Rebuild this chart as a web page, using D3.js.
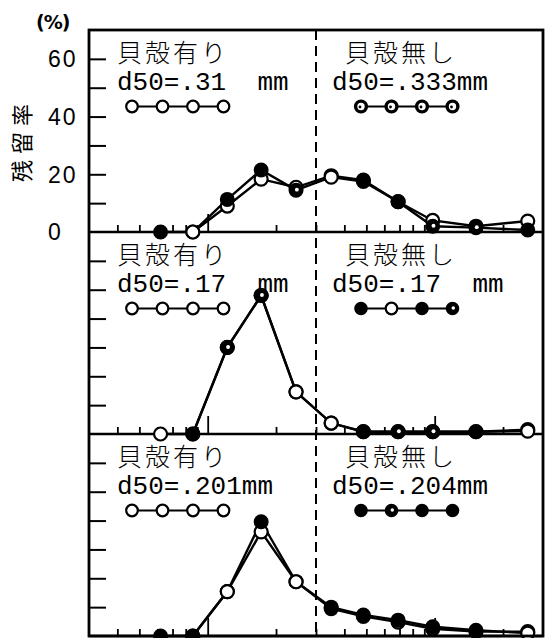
<!DOCTYPE html>
<html>
<head>
<meta charset="utf-8">
<script src="https://cdn.jsdelivr.net/npm/d3@7"></script>
<style>
  body { margin: 0; background: #fff; }
  text { fill: #000; }
</style>
</head>
<body>
<svg id="chart" width="551" height="638"></svg>
<script>
// Sieve opening sizes (mm) at which retention was measured
const sieveSizes = [0.062, 0.086, 0.122, 0.172, 0.245, 0.35, 0.485, 0.69, 0.98, 1.52, 2.57];

// Retention rate (%) per sieve — with shell (open) / without shell (filled), three samples
const withShell1    = [null, 0, 9, 18.3, 15.5, 19.5, 18, 10.5, 4, 2, 3.8];
const withoutShell1 = [0, 0, 11.3, 21.5, 14.5, 19, 17.5, 10.5, 2, 1.5, 0.7];
const withShell2    = [0, 0, 30, 48, 14.6, 3.8, 0.8, 0.8, 0.8, 0.8, 1.5];
const withoutShell2 = [null, 0, 30, 48, 14.6, 3.8, 0.8, 0.8, 0.8, 0.8, 1.0];
const withShell3    = [null, 0, 15.4, 36.1, 18.8, 9.5, 6.8, 4.8, 2.5, 1.5, 1.5];
const withoutShell3 = [0, 0, 15.4, 39.6, 18.8, 10, 7.3, 5.5, 3.2, 2, 1];

// Median grain size labels
const d50With    = [".31  mm", ".17  mm", ".201mm"];
const d50Without = [".333mm", ".17  mm", ".204mm"];
const labelWith = "貝殻有り";
const labelWithout = "貝殻無し";

// Axis ticks
const yTicks = [10, 20, 30, 40, 50, 60];
const yTickLabels = [0, 20, 40, 60];
const xMinorTicks = [0.04, 0.05, 0.06, 0.07, 0.08, 0.09, 0.2, 0.3, 0.4, 0.5, 0.6, 0.7, 0.8, 0.9, 2];
const xMajorTicks = [0.1, 1];
const boundarySize = 0.3;

// Marker looks of the shell-free series: f filled, o open, p filled with light speck, r ring
const markWithout = ["foffpoffppf", "ffppoofppfo", "ffofofffffo"];
const legendMarkWithout = ["rrrr", "fofp", "fpff"];

const series = [
  { withS: withShell1, withoutS: withoutShell1 },
  { withS: withShell2, withoutS: withoutShell2 },
  { withS: withShell3, withoutS: withoutShell3 }
];

// ---- layout ----
const plotLeft = 89, plotRight = 543, plotTop = 30, panelH = 202;
const svg = d3.select("#chart");

const x = d3.scaleLog().domain([0.03, 3]).range([plotLeft, plotRight]);

function drawMarker(g, cx, cy, kind, r) {
  if (kind === "f") {
    g.append("circle").attr("cx", cx).attr("cy", cy).attr("r", r)
      .attr("fill", "#000").attr("stroke", "#000").attr("stroke-width", 2);
  } else if (kind === "p") {
    g.append("circle").attr("cx", cx).attr("cy", cy).attr("r", r)
      .attr("fill", "#000").attr("stroke", "#000").attr("stroke-width", 2);
    g.append("circle").attr("cx", cx + 0.8).attr("cy", cy - 0.5).attr("r", r * 0.3)
      .attr("fill", "#fff");
  } else if (kind === "r") {
    g.append("circle").attr("cx", cx).attr("cy", cy).attr("r", r - 0.4)
      .attr("fill", "#fff").attr("stroke", "#000").attr("stroke-width", 3.4);
    g.append("circle").attr("cx", cx - 1).attr("cy", cy + 0.5).attr("r", 1.4)
      .attr("fill", "#000");
  } else {
    g.append("circle").attr("cx", cx).attr("cy", cy).attr("r", r)
      .attr("fill", "#fff").attr("stroke", "#000").attr("stroke-width", 2.2);
  }
}

const fJP = "'Noto Sans CJK JP'";
const fMono = "'Liberation Mono'";

series.forEach((s, i) => {
  const pTop = plotTop + i * panelH;
  const pBot = pTop + panelH;
  const y = d3.scaleLinear().domain([0, 70]).range([pBot, pTop]);
  const g = svg.append("g");

  // left ticks (inward)
  const ya = g.append("g").attr("transform", `translate(${plotLeft},0)`)
    .call(d3.axisRight(y).tickValues(yTicks).tickSize(17).tickFormat(""));
  ya.select(".domain").remove();
  ya.selectAll(".tick line").attr("stroke", "#000").attr("stroke-width", 2);

  // bottom ticks (inward)
  const xaMinor = g.append("g").attr("transform", `translate(0,${pBot})`)
    .call(d3.axisTop(x).tickValues(xMinorTicks).tickSize(7).tickFormat(""));
  xaMinor.select(".domain").remove();
  xaMinor.selectAll(".tick line").attr("stroke", "#000").attr("stroke-width", 1.8);
  const xaMajor = g.append("g").attr("transform", `translate(0,${pBot})`)
    .call(d3.axisTop(x).tickValues(xMajorTicks).tickSize(18).tickFormat(""));
  xaMajor.select(".domain").remove();
  xaMajor.selectAll(".tick line").attr("stroke", "#000").attr("stroke-width", 1.8);

  // baseline of the panel
  g.append("line").attr("x1", plotLeft).attr("x2", plotRight).attr("y1", pBot).attr("y2", pBot)
    .attr("stroke", "#000").attr("stroke-width", 2.6);

  // tick labels on the first panel
  if (i === 0) {
    yTickLabels.forEach(v => {
      svg.append("text").attr("x", 48).attr("y", y(v)).attr("dy", "0.36em")
        .attr("font-family", "'Liberation Sans'").attr("font-size", 23)
        .attr("letter-spacing", 2).text(v);
    });
  }

  // legend texts
  g.append("text").attr("x", 117).attr("y", pTop + 32)
    .attr("font-family", fJP).attr("font-weight", 300).attr("font-size", 25)
    .attr("letter-spacing", 3).text(labelWith);
  g.append("text").attr("x", 117).attr("y", pTop + 60)
    .attr("font-family", fMono).attr("font-size", 26)
    .style("white-space", "pre").text("d50=" + d50With[i]);
  g.append("text").attr("x", 345).attr("y", pTop + 32)
    .attr("font-family", fJP).attr("font-weight", 300).attr("font-size", 25)
    .attr("letter-spacing", 3).text(labelWithout);
  g.append("text").attr("x", 332).attr("y", pTop + 60)
    .attr("font-family", fMono).attr("font-size", 26)
    .style("white-space", "pre").text("d50=" + d50Without[i]);

  // legend markers
  const legY = pTop + 76.5;
  const legStep = 30.5;
  [[132, "oooo"], [361, legendMarkWithout[i]]].forEach(([lx, kinds]) => {
    g.append("line").attr("x1", lx).attr("x2", lx + 3 * legStep)
      .attr("y1", legY).attr("y2", legY).attr("stroke", "#000").attr("stroke-width", 2);
    kinds.split("").forEach((k, j) => drawMarker(g, lx + j * legStep, legY, k, 5.8));
  });

  // data lines
  const line = d3.line()
    .defined(d => d.v !== null)
    .x(d => x(d.size)).y(d => y(d.v));
  const ptsWith = sieveSizes.map((size, j) => ({ size, v: s.withS[j] }));
  const ptsWithout = sieveSizes.map((size, j) => ({ size, v: s.withoutS[j] }));
  g.append("path").datum(ptsWith).attr("d", line)
    .attr("fill", "none").attr("stroke", "#000").attr("stroke-width", 2.4);
  g.append("path").datum(ptsWithout).attr("d", line)
    .attr("fill", "none").attr("stroke", "#000").attr("stroke-width", 2.4);

  // data markers: with-shell first, shell-free on top
  ptsWith.forEach(d => { if (d.v !== null) drawMarker(g, x(d.size), y(d.v), "o", 6.5); });
  ptsWithout.forEach((d, j) => {
    if (d.v !== null) drawMarker(g, x(d.size), y(d.v), markWithout[i][j], 6.5);
  });
});

// dashed boundary line
svg.append("line").attr("x1", x(boundarySize)).attr("x2", x(boundarySize))
  .attr("y1", plotTop).attr("y2", plotTop + 3 * panelH)
  .attr("stroke", "#000").attr("stroke-width", 2).attr("stroke-dasharray", "10 6");

// outer frame
svg.append("rect").attr("x", plotLeft).attr("y", plotTop)
  .attr("width", plotRight - plotLeft).attr("height", 3 * panelH)
  .attr("fill", "none").attr("stroke", "#000").attr("stroke-width", 2.8);

// unit and axis title
svg.append("text").attr("x", 36).attr("y", 29)
  .attr("font-family", "'DejaVu Sans'").attr("font-weight", "bold").attr("font-size", 19)
  .attr("letter-spacing", -1).text("(%)");
svg.append("text")
  .attr("transform", "translate(30,140) rotate(-90)")
  .attr("text-anchor", "middle")
  .attr("font-family", fJP).attr("font-size", 22).attr("letter-spacing", 6)
  .text("残留率");
</script>
</body>
</html>
